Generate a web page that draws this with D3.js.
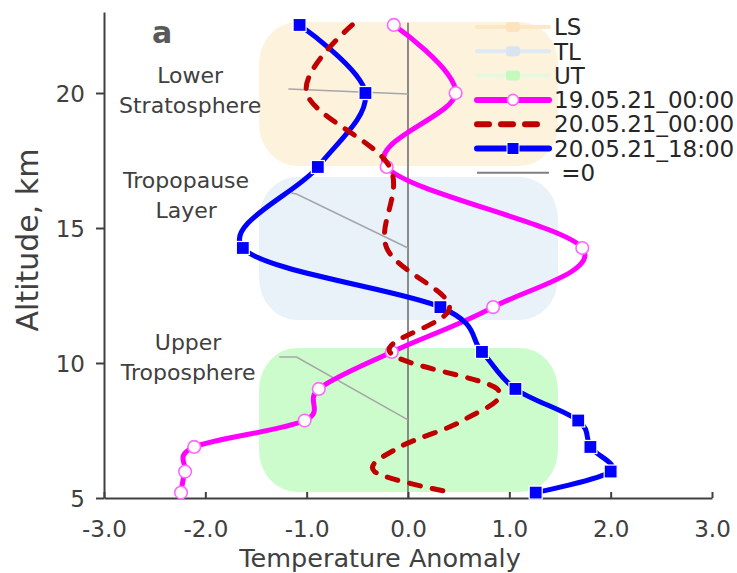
<!DOCTYPE html>
<html>
<head>
<meta charset="utf-8">
<script src="https://cdn.jsdelivr.net/npm/d3@7"></script>
<style>
  body { margin: 0; background: #fff; }
  text { font-family: "DejaVu Sans", Verdana, sans-serif; }
</style>
</head>
<body>
<svg id="chart" width="737" height="573"></svg>
<script>
// altitude levels (km) shared by all three profiles
var altitude = [22.52, 20.0, 17.26, 14.26, 12.07, 10.41, 9.04, 7.87, 6.89, 5.98, 5.2];
var run1900 = [-0.14, 0.47, -0.21, 1.72, 0.84, -0.16, -0.88, -1.02, -2.11, -2.2, -2.24];
var run2000 = [-0.55, -1.0, -0.18, -0.21, 0.41, -0.18, 0.88, 0.54, -0.08, -0.33, 0.43];
var run2018 = [-1.07, -0.42, -0.89, -1.63, 0.32, 0.73, 1.06, 1.68, 1.80, 2.0, 1.26];
var seriesNames = ["19.05.21_00:00", "20.05.21_00:00", "20.05.21_18:00"];

// atmospheric layers (altitude range, km)
var layerNames = ["LS", "TL", "UT"];
var layerTop = [22.63, 16.89, 10.56];
var layerBottom = [17.3, 11.59, 5.22];
var layerSpan = [-1.47, 1.48];
var layerLabels = [["Lower", "Stratosphere"], ["Tropopause", "Layer"], ["Upper", "Troposphere"]];
var labelAnchor = [[-2.15, 20.37], [-2.19, 16.48], [-2.17, 10.48]];
var leaders = [
  [[-1.18, 20.15], [0, 19.96]],
  [[-1.15, 16.3], [-1.1, 16.26], [0, 14.26]],
  [[-1.27, 10.22], [-1.1, 10.22], [0, 7.89]]
];

var xTicks = [-3, -2, -1, 0, 1, 2, 3];
var yTicks = [5, 10, 15, 20];

var svg = d3.select("#chart");

var x = d3.scaleLinear().domain([-3, 3]).range([104, 712]);
var y = d3.scaleLinear().domain([5, 23]).range([498, 12]);

var bandFill = ["#fdf2dc", "#e9f1f9", "#ccfccc"];

// background layer boxes
svg.selectAll(".band")
   .data(layerNames)
   .enter()
   .append("rect")
   .attr("class", "band")
   .attr("x", x(layerSpan[0]))
   .attr("width", x(layerSpan[1]) - x(layerSpan[0]))
   .attr("y", function(d, i) { return y(layerTop[i]); })
   .attr("height", function(d, i) { return y(layerBottom[i]) - y(layerTop[i]); })
   .attr("rx", 38)
   .attr("ry", 42)
   .attr("fill", function(d, i) { return bandFill[i]; });

// zero line
svg.append("line")
   .attr("x1", x(0)).attr("x2", x(0))
   .attr("y1", y(22.6)).attr("y2", y(5))
   .attr("stroke", "#7f7f7f")
   .attr("stroke-width", 1.8);

// leader lines from the labels
var leaderLine = d3.line()
   .x(function(d) { return x(d[0]); })
   .y(function(d) { return y(d[1]); });

svg.selectAll(".leader")
   .data(leaders)
   .enter()
   .append("path")
   .attr("class", "leader")
   .attr("d", leaderLine)
   .attr("fill", "none")
   .attr("stroke", "#a6a6a6")
   .attr("stroke-width", 1.5);

// layer labels
layerLabels.forEach(function(lines, i) {
  var t = svg.append("text")
     .attr("x", x(labelAnchor[i][0]))
     .attr("y", y(labelAnchor[i][1]))
     .attr("text-anchor", "middle")
     .attr("font-size", 22)
     .attr("fill", "#404040");
  lines.forEach(function(s, j) {
    t.append("tspan")
     .attr("x", x(labelAnchor[i][0]))
     .attr("dy", j == 0 ? 0 : 30)
     .text(s);
  });
});

// axes
var xAxis = svg.append("g")
   .attr("transform", "translate(0," + y(5) + ")")
   .call(d3.axisBottom(x).tickValues(xTicks).tickSizeInner(-6).tickSizeOuter(0)
          .tickFormat(function(d) { return d.toFixed(1); }));

var yAxis = svg.append("g")
   .attr("transform", "translate(" + x(-3) + ",0)")
   .call(d3.axisLeft(y).tickValues(yTicks).tickSizeInner(8).tickSizeOuter(0));

[xAxis, yAxis].forEach(function(a) {
  a.select(".domain").attr("stroke", "#404040").attr("stroke-width", 2);
  a.selectAll(".tick line").attr("stroke", "#404040").attr("stroke-width", 2);
  a.selectAll(".tick text").attr("fill", "#404040").attr("font-size", 23)
   .attr("font-family", "DejaVu Sans");
});
xAxis.selectAll(".tick text").attr("y", 39).attr("dy", 0);
yAxis.selectAll(".tick text").attr("x", -19).attr("dy", "0.36em");

svg.append("text")
   .attr("x", 380).attr("y", 567)
   .attr("text-anchor", "middle")
   .attr("font-size", 25.5)
   .attr("fill", "#404040")
   .text("Temperature Anomaly");

svg.append("text")
   .attr("transform", "translate(38,240) rotate(-90)")
   .attr("text-anchor", "middle")
   .attr("font-size", 30)
   .attr("fill", "#404040")
   .text("Altitude, km");

svg.append("text")
   .attr("x", 152).attr("y", 43)
   .attr("font-size", 30)
   .attr("font-weight", "bold")
   .attr("fill", "#595959")
   .text("a");

// profiles
function profile(vals) {
  return vals.map(function(v, i) { return [v, altitude[i]]; });
}

var curve = d3.line()
   .x(function(d) { return x(d[0]); })
   .y(function(d) { return y(d[1]); })
   .curve(d3.curveCatmullRom.alpha(0));

svg.append("path")
   .attr("d", curve(profile(run1900)))
   .attr("fill", "none")
   .attr("stroke", "#ff00ff")
   .attr("stroke-width", 5)
   .attr("stroke-linecap", "round");

svg.selectAll(".c1900")
   .data(profile(run1900))
   .enter()
   .append("circle")
   .attr("class", "c1900")
   .attr("cx", function(d) { return x(d[0]); })
   .attr("cy", function(d) { return y(d[1]); })
   .attr("r", 6.3)
   .attr("fill", "#fff")
   .attr("stroke", "#ff66ff")
   .attr("stroke-width", 1.6);

svg.append("path")
   .attr("d", curve(profile(run2018)))
   .attr("fill", "none")
   .attr("stroke", "#0000ff")
   .attr("stroke-width", 5);

svg.selectAll(".s2018")
   .data(profile(run2018))
   .enter()
   .append("rect")
   .attr("class", "s2018")
   .attr("x", function(d) { return x(d[0]) - 6.5; })
   .attr("y", function(d) { return y(d[1]) - 6.5; })
   .attr("width", 13)
   .attr("height", 13)
   .attr("fill", "#0000ff")
   .attr("stroke", "#fff")
   .attr("stroke-width", 1.2);

svg.append("path")
   .attr("d", curve(profile(run2000)))
   .attr("fill", "none")
   .attr("stroke", "#c00000")
   .attr("stroke-width", 5)
   .attr("stroke-linecap", "round")
   .attr("stroke-dasharray", "11,12");

// legend
var legendNames = layerNames.concat(seriesNames).concat([" =0"]);
var lineColor = ["#fce8c4", "#dfe9f5", "#e6f8e0", "#ff00ff", "#c00000", "#0000ff", "#7f7f7f"];
var markColor = ["#fbe4bd", "#d8e4f0", "#c4fabe"];

var legend = svg.append("g");
legendNames.forEach(function(name, i) {
  var ly = 27 + i * 24.3;
  var row = legend.append("g").attr("transform", "translate(0," + ly + ")");
  var w = i < 3 ? 4 : (i == 6 ? 2 : 6);
  row.append("line")
     .attr("x1", 477).attr("x2", 549)
     .attr("stroke", lineColor[i])
     .attr("stroke-width", w)
     .attr("stroke-linecap", i == 6 ? "butt" : "round")
     .attr("stroke-dasharray", i == 4 ? "12,12" : null);
  if (i < 3) {
    row.append("rect")
       .attr("x", 506).attr("y", -5).attr("width", 14).attr("height", 10).attr("rx", 3)
       .attr("fill", markColor[i]);
  } else if (i == 3) {
    row.append("circle").attr("cx", 513).attr("r", 5.5)
       .attr("fill", "#fff").attr("stroke", "#ff66ff").attr("stroke-width", 1.6);
  } else if (i == 5) {
    row.append("rect").attr("x", 507).attr("y", -6).attr("width", 12).attr("height", 12)
       .attr("fill", "#0000ff").attr("stroke", "#fff").attr("stroke-width", 1);
  }
  row.append("text")
     .attr("x", 554).attr("dy", "0.36em")
     .attr("font-size", 23)
     .attr("fill", "#262626")
     .attr("xml:space", "preserve")
     .style("white-space", "pre")
     .text(name);
});
</script>
</body>
</html>
